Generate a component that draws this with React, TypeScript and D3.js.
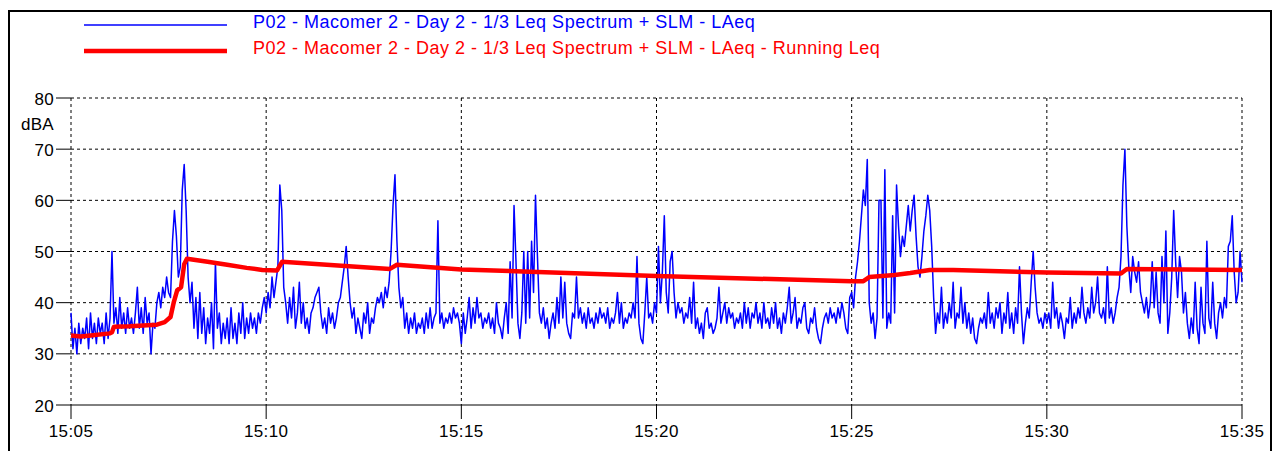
import React from "react";
import * as d3 from "d3";

// Blue LAeq, 3-second samples, one array per 5-minute block
const laeq1505 = [38,31,35,30,36,32,35,33,37,31,38,33,36,32,37,34,36,32,38,33,37,50,36,39,34,41,35,38,34,39,35,37,34,38,43,35,39,34,41,36,38,30,36,35,40,42,39,43,41,45,42,41,52,58,53,45,47,62,67,58,45,40,44,35,41,33,42,34,39,32,37,34,40,31,48,35,38,32,36,33,37,32,39,33,36,32,38,34,40,33,37,34,38,35,37,34,38,36,39,41];
const laeq1510 = [38,42,39,45,41,44,47,63,58,43,40,36,41,37,43,35,38,44,36,40,35,37,34,38,39,41,42,43,38,35,37,34,39,36,38,35,37,40,41,44,47,51,45,40,37,39,34,37,35,33,38,36,40,34,37,36,39,41,40,42,39,43,41,44,50,59,65,52,43,39,41,35,38,34,37,35,38,34,36,35,37,34,38,35,39,35,37,38,56,36,38,35,37,36,38,36,39,37,38,36];
const laeq1515 = [32,38,34,37,41,35,39,36,41,37,38,35,37,36,38,35,37,34,40,36,35,33,37,40,34,48,37,59,48,36,33,38,50,36,50,37,52,42,61,49,38,36,39,35,37,33,36,38,35,41,36,45,37,44,36,34,33,38,37,45,37,39,36,38,35,39,36,37,35,38,36,39,37,38,36,39,35,37,36,38,42,36,40,35,37,36,38,37,40,37,49,36,33,32,38,45,37,38,36,40];
const laeq1520 = [38,51,40,46,57,42,38,48,50,42,37,40,38,39,36,38,37,41,36,44,35,37,34,36,33,38,39,35,36,34,35,37,43,36,38,40,36,39,37,38,35,37,36,38,35,40,36,39,35,38,37,40,36,38,35,40,36,37,35,39,36,40,35,37,34,38,36,39,43,36,38,41,35,37,36,39,40,35,34,37,36,39,35,33,32,35,37,38,36,39,37,38,36,39,37,40,38,35,34,41];
const laeq1525 = [42,39,45,48,52,57,62,59,68,40,36,38,33,37,60,60,37,66,35,38,36,57,38,63,55,49,53,51,55,59,54,58,61,53,47,45,49,54,57,61,58,51,41,34,38,36,43,35,38,36,40,37,44,35,38,37,43,36,40,35,38,34,37,33,32,35,37,36,38,35,42,36,38,35,39,37,40,34,38,36,42,35,38,34,39,36,47,38,32,36,39,37,44,50,43,38,36,37,35,38];
const laeq1530 = [36,38,35,44,37,39,35,38,36,33,37,36,41,35,38,36,39,37,43,38,36,39,37,43,38,40,45,38,37,39,36,47,37,39,36,38,41,43,49,63,70,55,47,42,49,46,44,48,42,40,38,41,37,40,48,39,46,38,36,49,40,54,34,38,45,58,48,41,49,46,38,42,36,33,37,34,44,35,32,43,36,34,52,37,35,44,36,33,38,40,37,41,39,51,52,57,46,40,42,50,44];
const laeqBlocks = [laeq1505, laeq1510, laeq1515, laeq1520, laeq1525, laeq1530];

// Red running Leq: minutes after 15:05 and level
const runMinutes = [0,0.25,0.5,1.0,1.05,1.1,1.5,2.2,2.4,2.55,2.63,2.72,2.82,2.9,2.97,3.5,4.0,4.5,4.9,5.28,5.41,8.17,8.35,10,15,20,20.3,20.45,21.1,21.5,22.0,22.6,25,26.9,27.05,30];
const runLeq = [33.6,33.4,33.6,34.0,34.2,35.3,35.4,35.7,36.2,37.2,40.0,42.4,43.0,47.5,48.6,48.0,47.4,46.8,46.4,46.3,48.0,46.6,47.4,46.5,45.2,44.2,44.2,45.0,45.4,45.8,46.4,46.4,45.9,45.7,46.6,46.4];

const xTickLabels = ["15:05","15:10","15:15","15:20","15:25","15:30","15:35"];
const yTicks = [20,30,40,50,60,70,80];
const legendLabels = [
  "P02 - Macomer 2 - Day 2 - 1/3 Leq Spectrum + SLM - LAeq",
  "P02 - Macomer 2 - Day 2 - 1/3 Leq Spectrum + SLM - LAeq - Running Leq",
];

const FONT = "Arial, 'Liberation Sans', sans-serif";

export default function App() {
  const x = d3.scaleLinear().domain([0, 30]).range([71, 1242]);
  const y = d3.scaleLinear().domain([20, 80]).range([405, 98]);

  const bluePts: [number, number][] = [];
  laeqBlocks.forEach((blk, b) => {
    blk.forEach((v, i) => {
      const t = b * 5 + i * 0.05;
      if (t <= 30) bluePts.push([t, v]);
    });
  });
  const redPts: [number, number][] = runMinutes.map((t, i) => [t, runLeq[i]]);

  const line = d3.line<[number, number]>().x((d) => x(d[0])).y((d) => y(d[1]));
  const xTicks = xTickLabels.map((_, i) => i * 5);

  return (
    <svg width={1278} height={451} style={{ position: "absolute", left: 0, top: 0, background: "#fff" }} fontFamily={FONT}>
      <rect x={0} y={0} width={1278} height={451} fill="#fff" />
      <rect x={9} y={11} width={1262} height={470} fill="none" stroke="#000" strokeWidth={2} />
      {/* legend */}
      <line x1={84} x2={227} y1={25} y2={25} stroke="#0000ff" strokeWidth={1.3} />
      <text x={253} y={28} fontSize={18} letterSpacing={0.5} fill="#0000ff">{legendLabels[0]}</text>
      <line x1={84} x2={227} y1={51} y2={51} stroke="#ff0000" strokeWidth={4.5} />
      <text x={253} y={54} fontSize={18} letterSpacing={0.5} fill="#ff0000">{legendLabels[1]}</text>

      {/* grid */}
      {yTicks.filter((v) => v > 20).map((v) => (
        <line key={"gy" + v} x1={71} x2={1242} y1={y(v)} y2={y(v)} stroke="#000" strokeWidth={1} strokeDasharray="3,3" />
      ))}
      {xTicks.map((t) => (
        <line key={"gx" + t} x1={x(t)} x2={x(t)} y1={98} y2={405} stroke="#000" strokeWidth={1} strokeDasharray="3,3" />
      ))}
      <line x1={71} x2={1242} y1={405} y2={405} stroke="#000" strokeWidth={1} />

      {/* y axis ticks */}
      {yTicks.map((v) => (
        <g key={"yt" + v}>
          <line x1={56} x2={71} y1={y(v)} y2={y(v)} stroke="#000" strokeWidth={1} />
          <text x={54} y={y(v) + 6.5} textAnchor="end" fontSize={17} letterSpacing={0.3} fill="#000">{v}</text>
        </g>
      ))}
      <text x={54} y={130} textAnchor="end" fontSize={17} letterSpacing={0.3} fill="#000">dBA</text>

      {/* x axis ticks */}
      {xTicks.map((t, i) => (
        <g key={"xt" + t}>
          <line x1={x(t)} x2={x(t)} y1={405} y2={419} stroke="#000" strokeWidth={1} />
          <text x={x(t)} y={437} textAnchor="middle" fontSize={17} letterSpacing={0.4} fill="#000">{xTickLabels[i]}</text>
        </g>
      ))}

      <path d={line(bluePts) || ""} fill="none" stroke="#0000ff" strokeWidth={1.5} strokeLinejoin="round" />
      <path d={line(redPts) || ""} fill="none" stroke="#ff0000" strokeWidth={4.5} strokeLinejoin="round" />
    </svg>
  );
}
